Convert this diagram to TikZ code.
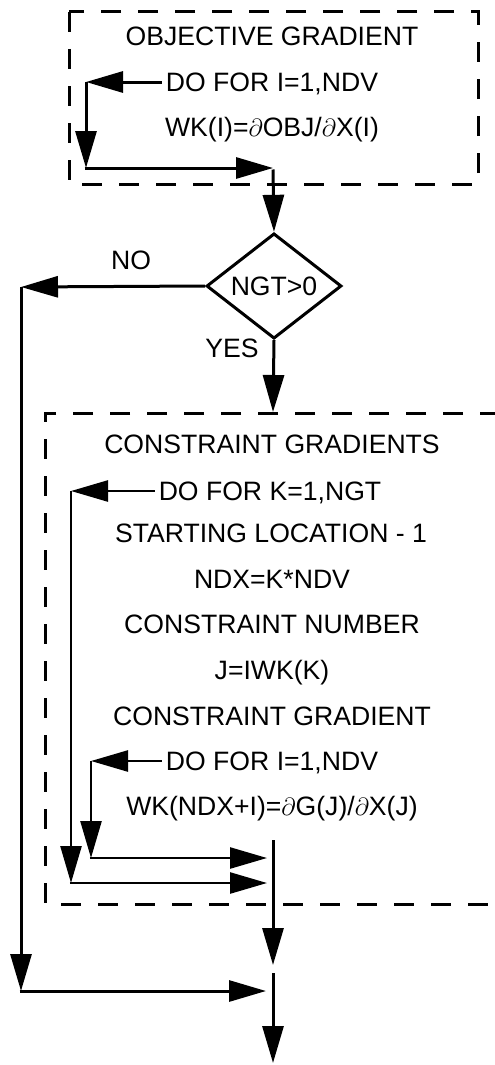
\documentclass[tikz,border=0pt]{standalone}
\usepackage{fontspec}
\setmainfont{Liberation Sans}
\usetikzlibrary{arrows.meta,shapes.geometric}
\tikzset{
  txt/.style={inner xsep=4pt, inner ysep=0pt, text height=19pt, text depth=0pt,
    font=\fontsize{26.6}{31}\selectfont},
  ln/.style={line width=3pt},
  thin/.style={line width=2.5pt},
  arr/.style={-{Triangle[length=37pt,width=21pt]}},
  dashbox/.style={line width=3pt, dash pattern=on 20pt off 17pt},
  decision/.style={shape=diamond, draw, line width=3pt, minimum width=135pt,
    minimum height=78pt, inner sep=0pt, font=\fontsize{26.6}{31}\selectfont}
}
\begin{document}
\begin{tikzpicture}[x=1pt,y=-1pt]
\useasboundingbox (0,0) rectangle (495,1065);
\clip (0,0) rectangle (495,1065);
% objective gradient box
\draw[dashbox] (69,12) rectangle (478,184);
\node[txt] (t1) at (272,36) {OBJECTIVE GRADIENT};
\node[txt] (d1) at (272,82) {DO FOR I=1,NDV};
\node[txt] (w1) at (272,127) {WK(I)=$\partial$OBJ/$\partial$X(I)};
\coordinate (c1) at (86,82);
\coordinate (c2) at (86,168);
\coordinate (c3) at (273,168);
\draw[ln,arr] (d1.west) -- (c1);
\draw[ln,arr] (c1) -- (c2);
\draw[ln,arr] ([xshift=-1.5pt]c2) -- (c3);
% decision
\node[decision] (dia) at (274,286) {NGT>0};
\draw[ln,arr] ([yshift=-1.5pt]c3) -- (dia.north);
\node[txt] (no) at (131,260) {NO};
\node[txt] (yes) at (232,348) {YES};
\coordinate (n1) at (21,287);
\coordinate (n2) at (21,991);
\coordinate (m1) at (266,991);
\coordinate (m2) at (273,973);
\coordinate (m3) at (273,1063);
\draw[ln,arr] (dia.west) -- (n1);
\draw[ln,arr] (n1) -- (n2);
\draw[ln,arr] ([xshift=-1.5pt]n2) -- (m1);
\draw[ln,arr] (m2) -- (m3);
\coordinate (b2) at (273,412);
\draw[ln,arr] (dia.south) -- (b2);
% constraint gradients box
\draw[dashbox] (500,413) -- (45,413) -- (45,904) -- (500,904);
\node[txt] (t2) at (272,444) {CONSTRAINT GRADIENTS};
\node[txt] (d2) at (270,491) {DO FOR K=1,NGT};
\node[txt] (s2) at (271,533) {STARTING LOCATION - 1};
\node[txt] (n2t) at (272,579) {NDX=K*NDV};
\node[txt] (c2t) at (272,624) {CONSTRAINT NUMBER};
\node[txt] (j2t) at (272,670) {J=IWK(K)};
\node[txt] (g2t) at (272,716) {CONSTRAINT GRADIENT};
\node[txt] (d3) at (272,761) {DO FOR I=1,NDV};
\node[txt] (w3) at (272,806) {WK(NDX+I)=$\partial$G(J)/$\partial$X(J)};
\coordinate (k1) at (71,491);
\coordinate (k2) at (71,883);
\coordinate (k3) at (267,883);
\draw[thin,arr] (d2.west) -- (k1);
\draw[thin,arr] (k1) -- (k2);
\draw[thin,arr] ([xshift=-1.25pt]k2) -- (k3);
\coordinate (i1) at (91,761);
\coordinate (i2) at (91,858);
\coordinate (i3) at (267,858);
\draw[thin,arr] (d3.west) -- (i1);
\draw[thin,arr] (i1) -- (i2);
\draw[thin,arr] ([xshift=-1.25pt]i2) -- (i3);
\coordinate (j1) at (273,840);
\coordinate (j2) at (273,965);
\draw[ln,arr] (j1) -- (j2);
\end{tikzpicture}
\end{document}
